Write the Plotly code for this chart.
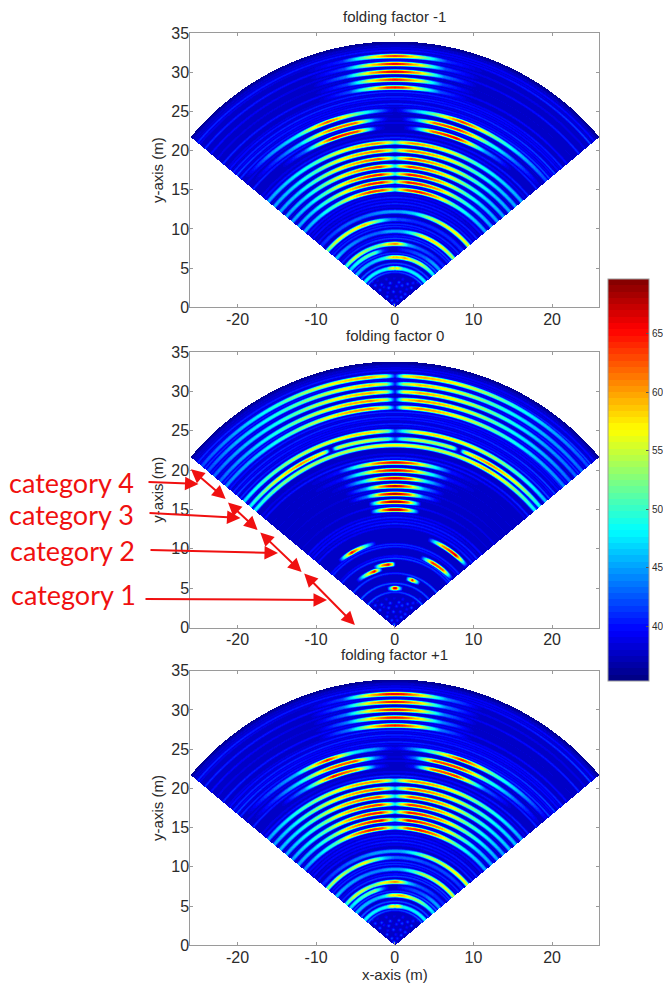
import numpy as np
import plotly.graph_objects as go

W, H = 663, 983

# ---- values ----
angle_knots = [-50, -40, -30, -20, -12, -6, -2, 0, 2, 6, 12, 20, 30, 40, 50]

rings_minus1 = {
    32.0: [37, 37, 37, 38, 41, 54, 62, 64, 62, 54, 41, 38, 37, 37, 37],
    31.0: [37, 37, 37, 38, 42, 57, 64, 66, 64, 57, 42, 38, 37, 37, 37],
    30.0: [37, 37, 37, 38, 44, 59, 65, 66, 65, 59, 44, 38, 37, 37, 37],
    29.0: [37, 37, 37, 38, 42, 57, 63, 65, 63, 57, 42, 38, 37, 37, 37],
    28.0: [37, 37, 37, 38, 42, 55, 64, 65, 64, 55, 42, 38, 37, 37, 37],
    25.1: [37, 44, 48, 63, 53, 46, 40, 38, 40, 46, 53, 64, 52, 46, 42],
    24.0: [37, 41, 47, 62, 62, 43, 38, 38, 38, 44, 62, 64, 50, 43, 38],
    22.9: [37, 37, 43, 66, 63, 40, 37, 37, 37, 42, 62, 66, 45, 38, 37],
    21.0: [45, 47, 50, 56, 59, 61, 56, 50, 56, 61, 59, 56, 50, 47, 45],
    20.0: [45, 47, 51, 57, 60, 62, 57, 50, 57, 62, 60, 57, 51, 47, 45],
    19.0: [45, 47, 52, 58, 61, 63, 56, 48, 56, 63, 61, 58, 52, 47, 45],
    18.0: [45, 47, 52, 58, 62, 64, 56, 48, 56, 64, 62, 58, 52, 47, 45],
    17.0: [45, 47, 52, 59, 64, 65, 57, 49, 57, 65, 64, 59, 52, 47, 45],
    16.0: [45, 47, 52, 59, 64, 65, 58, 49, 58, 65, 64, 60, 52, 47, 45],
    15.0: [45, 47, 51, 58, 64, 63, 56, 49, 56, 63, 65, 60, 51, 47, 45],
    12.2: [41, 42, 43, 43, 44, 45, 45, 45, 45, 46, 47, 53, 56, 57, 56],
    11.2: [52, 56, 56, 59, 52, 46, 43, 43, 42, 42, 41, 41, 41, 41, 41],
    9.7: [46, 45, 44, 43, 43, 45, 45, 45, 45, 46, 49, 56, 58, 56, 53],
    8.1: [49, 55, 54, 51, 53, 58, 60, 61, 60, 55, 46, 43, 42, 41, 41],
    7.4: [47, 49, 51, 51, 41, 38, 37, 37, 38, 40, 41, 42, 43, 45, 45],
    6.4: [46, 46, 46, 47, 49, 55, 59, 58, 59, 58, 60, 54, 55, 51, 47],
    5.0: [48, 48, 48, 48, 49, 55, 58, 52, 58, 55, 49, 48, 48, 48, 48],
}

rings_zero = {
    32.0: [42, 45, 49, 54, 58, 60, 55, 40, 56, 60, 58, 54, 49, 45, 42],
    31.0: [42, 46, 49, 53, 57, 59, 54, 40, 54, 59, 57, 53, 48, 45, 43],
    30.0: [43, 46, 49, 54, 58, 60, 55, 40, 56, 60, 58, 54, 49, 45, 43],
    29.0: [43, 46, 50, 55, 59, 61, 55, 40, 56, 61, 59, 55, 49, 46, 43],
    28.0: [44, 46, 50, 55, 60, 61, 54, 40, 55, 61, 59, 55, 50, 46, 44],
    25.0: [47, 51, 54, 56, 58, 58, 52, 42, 48, 57, 58, 57, 54, 50, 46],
    24.0: [48, 55, 61, 55, 55, 55, 51, 42, 50, 55, 54, 55, 61, 56, 48],
    23.2: [48, 52, 54, 54, 55, 56, 57, 57, 57, 56, 55, 55, 59, 54, 48],
    21.0: [37, 37, 38, 40, 52, 62, 65, 66, 65, 62, 52, 40, 38, 37, 37],
    20.0: [37, 37, 38, 40, 51, 62, 65, 66, 65, 62, 51, 40, 38, 37, 37],
    19.0: [37, 37, 37, 39, 48, 62, 66, 67, 66, 62, 48, 39, 37, 37, 37],
    18.0: [37, 37, 37, 38, 45, 60, 66, 68, 66, 60, 45, 38, 37, 37, 37],
    17.0: [37, 37, 37, 38, 44, 62, 67, 68, 67, 62, 44, 38, 37, 37, 37],
    16.0: [37, 37, 37, 37, 38, 62, 68, 68, 68, 62, 38, 37, 37, 37, 37],
    15.0: [37, 37, 37, 37, 38, 60, 68, 68, 68, 60, 38, 37, 37, 37, 37],
    12.0: [37, 37, 37, 37, 37, 37, 37, 37, 37, 37, 37, 37, 60, 67, 37],
    11.0: [37, 38, 66, 50, 37, 37, 37, 37, 37, 37, 37, 37, 37, 37, 37],
    9.5: [37, 37, 37, 37, 37, 37, 37, 37, 37, 37, 37, 38, 64, 62, 37],
    8.05: [37, 37, 37, 37, 60, 66, 56, 40, 37, 37, 37, 37, 37, 37, 37],
    7.6: [37, 37, 52, 66, 38, 37, 37, 37, 37, 37, 37, 37, 37, 37, 37],
    6.4: [37, 37, 37, 37, 37, 37, 37, 37, 37, 37, 37, 65, 37, 37, 37],
    5.0: [37, 37, 37, 37, 37, 50, 66, 67, 66, 50, 37, 37, 37, 37, 37],
}

rings_plus1 = {
    32.0: [37, 37, 37, 38, 42, 58, 65, 66, 65, 58, 44, 38, 37, 37, 37],
    31.0: [37, 37, 37, 38, 44, 58, 64, 65, 64, 58, 44, 38, 37, 37, 37],
    30.0: [37, 37, 37, 38, 44, 58, 64, 65, 64, 58, 44, 38, 37, 37, 37],
    29.0: [37, 37, 37, 38, 44, 58, 64, 65, 64, 58, 44, 38, 37, 37, 37],
    28.0: [37, 37, 37, 38, 44, 58, 64, 65, 64, 58, 44, 38, 37, 37, 37],
    25.1: [37, 42, 46, 65, 48, 45, 40, 39, 40, 45, 53, 65, 51, 45, 39],
    24.0: [37, 41, 48, 62, 63, 44, 38, 38, 38, 43, 63, 64, 50, 43, 38],
    22.9: [37, 37, 45, 65, 60, 41, 38, 37, 37, 40, 62, 64, 43, 38, 37],
    21.0: [45, 48, 52, 57, 60, 61, 55, 48, 55, 61, 60, 57, 52, 48, 45],
    20.0: [45, 48, 53, 58, 61, 62, 54, 46, 54, 62, 61, 58, 52, 48, 46],
    19.0: [46, 48, 53, 59, 62, 63, 54, 47, 54, 63, 62, 59, 52, 48, 46],
    18.0: [45, 48, 52, 59, 63, 64, 55, 47, 55, 64, 63, 59, 52, 48, 45],
    17.0: [45, 48, 52, 60, 64, 65, 56, 47, 56, 65, 64, 60, 53, 48, 45],
    16.0: [45, 47, 52, 60, 64, 66, 55, 48, 55, 66, 64, 61, 53, 47, 45],
    15.0: [44, 47, 51, 60, 65, 63, 54, 49, 54, 63, 65, 61, 52, 47, 45],
    12.0: [41, 42, 43, 44, 45, 45, 45, 45, 45, 46, 49, 54, 55, 57, 56],
    11.2: [53, 55, 53, 57, 52, 46, 44, 43, 43, 43, 43, 42, 42, 42, 41],
    9.7: [46, 45, 45, 44, 44, 45, 45, 45, 45, 46, 49, 54, 55, 56, 55],
    8.1: [49, 55, 55, 52, 56, 58, 60, 61, 60, 56, 47, 43, 42, 41, 41],
    7.4: [47, 49, 51, 53, 43, 38, 37, 37, 38, 40, 41, 42, 43, 45, 45],
    6.4: [46, 46, 46, 46, 48, 55, 58, 57, 58, 60, 58, 54, 53, 49, 47],
    5.0: [48, 48, 48, 48, 49, 56, 58, 53, 58, 56, 49, 48, 48, 48, 48],
}

notches_zero = [(24.0, -19.8), (24.0, 19.8)]

streak_radii = [4.5, 5.6, 6.9, 8.8, 9.1, 10.3, 10.6, 12.8, 13.2, 13.6, 14.0, 14.4, 15.5, 16.5, 17.5,
                18.5, 19.5, 20.5, 21.6, 22.1, 23.5, 24.6, 25.6, 25.9, 26.2, 26.5, 26.8, 27.1, 27.4, 27.7,
                28.5, 29.5, 30.5, 31.5, 32.4, 32.7, 33.0, 33.3]
streak_left = [43, 43, 42, 41, 39, 41, 40, 40, 38, 40, 39, 40, 38, 38, 38,
               38, 38, 38, 40, 39, 41, 39, 41, 38, 42, 39, 41, 38, 40, 39,
               41, 39, 40, 41, 39, 41, 38, 38]
streak_mid = [41, 42, 41, 42, 40, 41, 41, 39, 41, 40, 41, 39, 40, 38, 39,
              38, 38, 38, 41, 39, 39, 38, 39, 41, 38, 40, 41, 39, 41, 38,
              39, 38, 38, 39, 38, 40, 39, 38]
streak_right = [43, 42, 43, 41, 42, 39, 41, 41, 39, 41, 38, 40, 38, 39, 38,
                38, 38, 38, 39, 41, 41, 38, 42, 39, 40, 42, 38, 40, 39, 41,
                40, 38, 41, 39, 42, 38, 40, 38]

core_spot_x = [-2.9, -2.2, -1.7, -1.1, -0.6, -0.1, 0.5, 1.0, 1.6, 2.3, 2.9, -2.5, -1.4, -0.8, 0.2,
               0.9, 1.5, 2.1, -1.9, -0.9, -0.2, 0.7, 1.3, -1.0, 0.1, 0.8, -0.4, 0.3, -0.1, 3.2]
core_spot_y = [3.3, 3.4, 2.9, 3.6, 3.1, 3.7, 3.2, 3.6, 3.0, 3.1, 3.2, 2.8, 2.6, 2.5, 2.7,
               2.8, 2.3, 2.5, 2.2, 1.9, 2.0, 2.0, 1.7, 1.4, 1.4, 1.3, 0.9, 0.9, 0.4, 3.6]
core_spot_z = [41, 39, 42, 40, 42, 39, 42, 40, 42, 41, 40, 42, 40, 42, 41,
               42, 40, 42, 42, 40, 42, 41, 42, 42, 40, 42, 42, 41, 43, 40]

panel_titles = ["folding factor -1", "folding factor 0", "folding factor +1"]
x_ticks = [-20, -10, 0, 10, 20]
y_ticks = [0, 5, 10, 15, 20, 25, 30, 35]
colorbar_ticks = [40, 45, 50, 55, 60, 65]
category_labels = ["category 4", "category 3", "category 2", "category 1"]

# ---- layout ----
FONT = "Liberation Sans"
INK = "#2b2b2b"
AXIS = "#9a9a9a"
LEFT, RIGHT = 190.3, 599.3
PANEL_Y = [(33.0, 307.3), (352.0, 627.5), (670.7, 945.3)]
ZMIN, ZMAX = 35.3, 69.7


def jet(t):
    def ch(c):
        return np.clip(1.5 - abs(4 * t - c), 0, 1)
    return ch(3), ch(2), ch(1)


colorscale = []
for i in range(64):
    r, g, b = jet((i + 0.5) / 64)
    c = f"rgb({int(r * 255)},{int(g * 255)},{int(b * 255)})"
    colorscale += [[i / 64, c], [(i + 1) / 64, c]]

xc = np.linspace(-26, 26, 410)
yc = np.linspace(0, 35, 276)
XX, YY = np.meshgrid(xc, yc)
RR = np.hypot(XX, YY)
TH = np.degrees(np.arctan2(XX, YY))


def raster(rings, notches=()):
    base = 37.5 - 1.5 * np.clip((RR - 33.2) / 0.6, 0, 1)
    z = base.copy()
    for i, r0 in enumerate(streak_radii):
        peak = np.interp(TH, [-50, 0, 50], [streak_left[i], streak_mid[i], streak_right[i]])
        z = np.maximum(z, base + (peak - base) * np.exp(-((RR - r0) ** 2) / (2 * 0.11 ** 2)))
    for sx, sy, sz in zip(core_spot_x, core_spot_y, core_spot_z):
        z = np.maximum(z, base + (sz - base) * np.exp(-((XX - sx) ** 2 + (YY - sy) ** 2) / (2 * 0.14 ** 2)))
    for r0, vals in rings.items():
        peak = np.interp(TH, angle_knots, vals)
        for nr, nth in notches:
            if nr == r0:
                peak = 38 + (peak - 38) * (1 - np.exp(-((TH - nth) ** 2) / (2 * 0.9 ** 2)))
        z = np.maximum(z, base + (peak - base) * np.exp(-(np.abs(RR - r0) / 0.27) ** 3))
    z[(RR > 33.85) | (np.abs(TH) > 50.15)] = np.nan
    return z


fig = go.Figure()
tables = [(rings_minus1, ()), (rings_zero, notches_zero), (rings_plus1, ())]
layout = {}
for k, ((rings, notches), (top, bottom)) in enumerate(zip(tables, PANEL_Y)):
    s = "" if k == 0 else str(k + 1)
    fig.add_trace(go.Heatmap(x=xc, y=yc, z=raster(rings, notches), coloraxis="coloraxis",
                             xaxis=f"x{s}", yaxis=f"y{s}", hoverongaps=False))
    common = dict(showline=True, linecolor=AXIS, linewidth=1, mirror="allticks", ticks="inside",
                  ticklen=3, tickcolor=AXIS, showgrid=False, zeroline=False,
                  tickfont=dict(family=FONT, size=16, color=INK))
    layout[f"xaxis{s}"] = dict(common, domain=[LEFT / W, RIGHT / W], range=[-26, 26], anchor=f"y{s}",
                               tickmode="array", tickvals=x_ticks, ticklabelstandoff=-3,
                               ticktext=[str(v) for v in x_ticks])
    if k == 2:
        layout[f"xaxis{s}"]["title"] = dict(text="x-axis (m)", standoff=4,
                                            font=dict(family=FONT, size=15, color=INK))
    layout[f"yaxis{s}"] = dict(common, domain=[1 - bottom / H, 1 - top / H], range=[0, 35], anchor=f"x{s}",
                               tickmode="array", tickvals=y_ticks, ticklabelstandoff=-3,
                               title=dict(text="y-axis (m)", standoff=4,
                                          font=dict(family=FONT, size=15, color=INK)))

annotations = []
for title, yp in zip(panel_titles, [16, 336, 654]):
    annotations.append(dict(text=title, x=394.7 / W, y=1 - yp / H, xref="paper", yref="paper", showarrow=False,
                            xanchor="center", yanchor="middle", font=dict(family=FONT, size=15, color=INK)))
for label, xp, yp in zip(category_labels, [71, 71, 72, 73], [482, 514, 550, 594]):
    annotations.append(dict(text=label, x=xp / W, y=1 - yp / H, xref="paper", yref="paper", showarrow=False,
                            xanchor="center", yanchor="middle", font=dict(family="Lato", size=27, color="#f01010")))


def arrow(x0, y0, x1, y1, both=False):
    annotations.append(dict(x=x1 / W, y=1 - y1 / H, ax=x0 - x1, ay=y0 - y1, xref="paper", yref="paper",
                            axref="pixel", ayref="pixel", text="", showarrow=True, arrowhead=2,
                            arrowsize=1.35, arrowwidth=2, arrowcolor="#f01010",
                            arrowside="end+start" if both else "end",
                            startarrowhead=2, startarrowsize=1.35))


arrow(147, 482, 198.5, 484)
arrow(148, 513, 240.5, 518)
arrow(149, 550, 278, 553)
arrow(144, 599, 327, 600)
arrow(189.5, 468, 225.7, 499, True)
arrow(226.5, 501, 257.6, 530, True)
arrow(258.8, 531, 301.6, 572, True)
arrow(302.7, 572, 354.9, 625, True)

fig.update_layout(
    width=W, height=H, margin=dict(l=0, r=0, t=0, b=0, autoexpand=False), paper_bgcolor="white", plot_bgcolor="white",
    showlegend=False, annotations=annotations,
    coloraxis=dict(cmin=ZMIN, cmax=ZMAX, colorscale=colorscale,
                   colorbar=dict(x=607.7 / W, xanchor="left", y=1 - 279 / H, yanchor="top",
                                 len=401.7 / H, lenmode="fraction", thickness=40.6, thicknessmode="pixels",
                                 xpad=0, ypad=0, outlinecolor=AXIS, outlinewidth=1, borderwidth=0,
                                 ticks="inside", ticklen=3, tickcolor="#555555", tickmode="array",
                                 tickvals=colorbar_ticks, tickfont=dict(family=FONT, size=10, color=INK))),
    **layout,
)
fig.write_html("out.html", config={"displayModeBar": False},
               post_script="document.body.style.margin='0';document.body.style.overflow='hidden';")
